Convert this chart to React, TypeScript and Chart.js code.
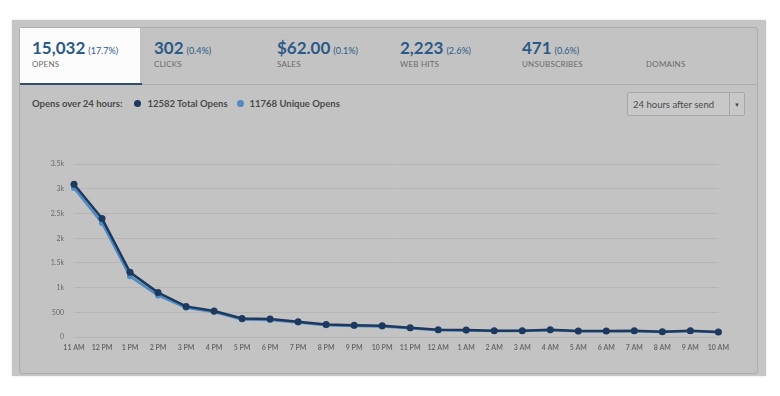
import React, { useEffect, useRef } from "react";
import { Chart, registerables } from "chart.js";

Chart.register(...registerables);

const hours = ["11 AM", "12 PM", "1 PM", "2 PM", "3 PM", "4 PM", "5 PM", "6 PM", "7 PM", "8 PM", "9 PM", "10 PM", "11 PM", "12 AM", "1 AM", "2 AM", "3 AM", "4 AM", "5 AM", "6 AM", "7 AM", "8 AM", "9 AM", "10 AM"];
const totalOpens = [3095, 2400, 1310, 900, 620, 525, 375, 365, 310, 255, 240, 228, 188, 145, 142, 128, 128, 147, 122, 122, 125, 108, 127, 102];
const uniqueOpens = [3020, 2310, 1230, 840, 590, 505, 355, 345, 295, 238, 225, 214, 176, 136, 133, 120, 120, 138, 114, 114, 117, 101, 119, 96];

const yTicks = [0, 500, 1000, 1500, 2000, 2500, 3000, 3500];
const yTickLabels = ["0", "500", "1k", "1.5k", "2k", "2.5k", "3k", "3.5k"];

const tabs = [
  { value: "15,032", pct: "(17.7%)", label: "OPENS", x: 32 },
  { value: "302", pct: "(0.4%)", label: "CLICKS", x: 154 },
  { value: "$62.00", pct: "(0.1%)", label: "SALES", x: 277 },
  { value: "2,223", pct: "(2.6%)", label: "WEB HITS", x: 400 },
  { value: "471", pct: "(0.6%)", label: "UNSUBSCRIBES", x: 522 },
  { value: "", pct: "", label: "DOMAINS", x: 646 },
];

const FONT = "Lato, 'Open Sans', sans-serif";
const NAVY = "#1d3a5e";
const LIGHT = "#4f8bc4";
const BLUE_TEXT = "#2b5a88";

export default function App() {
  const ref = useRef<HTMLCanvasElement | null>(null);

  useEffect(() => {
    if (!ref.current) return;
    const chart = new Chart(ref.current, {
      type: "line",
      data: {
        labels: hours,
        datasets: [
          {
            label: "Total Opens",
            data: totalOpens,
            borderColor: NAVY,
            backgroundColor: NAVY,
            borderWidth: 2.5,
            pointRadius: 3.5,
            pointBorderWidth: 0,
            tension: 0,
            order: 1,
          },
          {
            label: "Unique Opens",
            data: uniqueOpens,
            borderColor: LIGHT,
            backgroundColor: LIGHT,
            borderWidth: 2.5,
            pointRadius: 3,
            pointBorderWidth: 0,
            tension: 0,
            order: 2,
          },
        ],
      },
      options: {
        animation: false,
        responsive: false,
        maintainAspectRatio: false,
        layout: { padding: { top: 13, right: 14, left: 0, bottom: 0 } },
        plugins: { legend: { display: false }, tooltip: { enabled: false } },
        scales: {
          x: {
            offset: false,
            grid: { display: false, drawTicks: false },
            border: { display: false },
            ticks: {
              color: "#6a6a6a",
              font: { family: FONT, size: 7, weight: "bold" },
              padding: 7,
              maxRotation: 0,
              autoSkip: false,
            },
            afterFit: (s: any) => {
              s.height = 23;
            },
          },
          y: {
            min: 0,
            max: 3500,
            afterBuildTicks: (s: any) => {
              s.ticks = yTicks.map((v) => ({ value: v }));
            },
            grid: { color: "#b5b5b5", lineWidth: 1, drawTicks: false },
            border: { display: false },
            ticks: {
              color: "#6a6a6a",
              font: { family: FONT, size: 7 },
              padding: 10,
              callback: (v: any) => {
                const i = yTicks.indexOf(Number(v));
                return i >= 0 ? yTickLabels[i] : "";
              },
            },
            afterFit: (s: any) => {
              s.width = 44;
            },
          },
        },
      },
    });
    return () => chart.destroy();
  }, []);

  return (
    <div style={{ position: "absolute", left: 0, top: 0, width: 780, height: 396, background: "#fff", overflow: "hidden", fontFamily: FONT }}>
      <div style={{ position: "absolute", left: 12, top: 20, width: 754, height: 356, background: "#c5c5c5", boxShadow: "0 0 2px #ddd" }} />
      <div style={{ position: "absolute", left: 19, top: 27, width: 737, height: 345, background: "#c3c3c3", border: "1px solid #adadad", borderRadius: 3 }} />
      <div style={{ position: "absolute", left: 20, top: 28, width: 120, height: 56, background: "#fcfcfc" }} />
      <div style={{ position: "absolute", left: 20, top: 84, width: 737, height: 1, background: "#adadad" }} />
      <div style={{ position: "absolute", left: 20, top: 83, width: 122, height: 2, background: "#2f4f72" }} />
      {tabs.map((t) => (
        <div key={t.label} style={{ position: "absolute", left: t.x, top: 37 }}>
          <div style={{ height: 20, whiteSpace: "nowrap" }}>
            <span style={{ fontSize: 17, fontWeight: 700, color: BLUE_TEXT }}>{t.value}</span>
            {t.pct && <span style={{ fontSize: 9, color: BLUE_TEXT, marginLeft: 3 }}>{t.pct}</span>}
          </div>
          <div style={{ fontSize: 8, color: "#6b6b6b", marginTop: 2, letterSpacing: 0.2 }}>{t.label}</div>
        </div>
      ))}
      <div style={{ position: "absolute", left: 32, top: 98, fontSize: 9.5, fontWeight: 700, color: "#4a4a4a", whiteSpace: "nowrap", display: "flex", alignItems: "center" }}>
        <span>Opens over 24 hours:</span>
        <span style={{ display: "inline-block", width: 7, height: 7, borderRadius: 4, background: NAVY, marginLeft: 12, marginRight: 6 }} />
        <span>12582 Total Opens</span>
        <span style={{ display: "inline-block", width: 7, height: 7, borderRadius: 4, background: LIGHT, marginLeft: 9, marginRight: 6 }} />
        <span>11768 Unique Opens</span>
      </div>
      <div style={{ position: "absolute", left: 627, top: 92, width: 116, height: 22, border: "1px solid #a8a8a8", borderRadius: 2, background: "#c8c8c8", display: "flex", alignItems: "center", fontSize: 9.5, color: "#4a4a4a" }}>
        <span style={{ paddingLeft: 5, width: 96 }}>24 hours after send</span>
        <span style={{ borderLeft: "1px solid #a8a8a8", height: 22, flex: 1, display: "flex", alignItems: "center", justifyContent: "center", fontSize: 6 }}>▼</span>
      </div>
      <canvas ref={ref} width={706} height={210} style={{ position: "absolute", left: 30, top: 150, width: 706, height: 210 }} />
    </div>
  );
}
